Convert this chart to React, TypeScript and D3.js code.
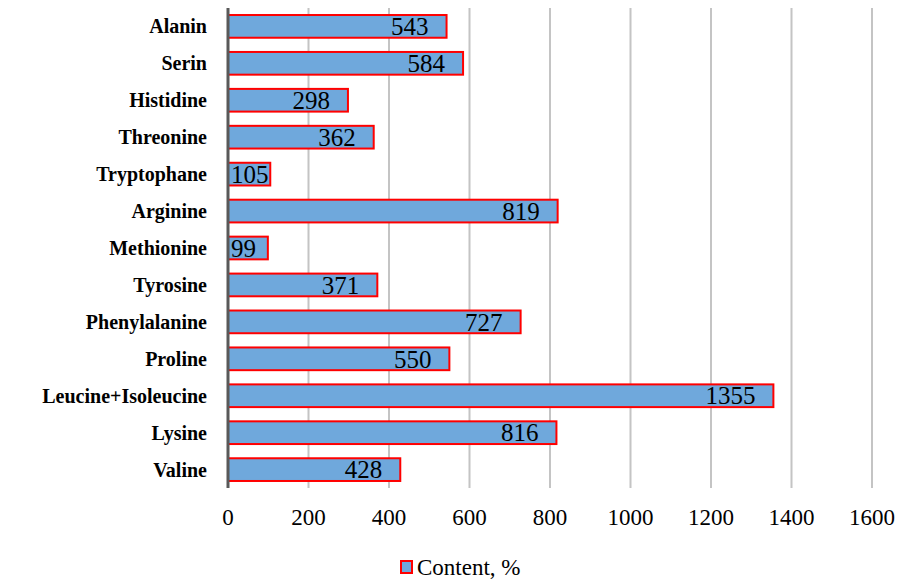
import * as d3 from 'd3';

const categories = [
  'Alanin', 'Serin', 'Histidine', 'Threonine', 'Tryptophane', 'Arginine', 'Methionine',
  'Tyrosine', 'Phenylalanine', 'Proline', 'Leucine+Isoleucine', 'Lysine', 'Valine',
];
const contentValues = [543, 584, 298, 362, 105, 819, 99, 371, 727, 550, 1355, 816, 428];
const xTicks = [0, 200, 400, 600, 800, 1000, 1200, 1400, 1600];
const seriesName = 'Content, %';

const fontStyle = { fontFamily: 'Liberation Serif, serif' };
const BAR_FILL = '#6fa8dc';
const BAR_STROKE = '#ff0000';

const x = d3.scaleLinear().domain([0, 1600]).range([228, 872]);
const y = d3.scaleBand().domain(categories).range([8, 488]).paddingInner(0.385).paddingOuter(0.19);

const App = () => {
  const data = categories.map((c, i) => ({ name: c, value: contentValues[i] }));
  const labelSize = 25;

  return (
    <svg width={898} height={580} style={{ position: 'absolute', left: 0, top: 0, background: '#fff' }}>
      {/* gridlines */}
      {xTicks.slice(1).map(t => (
        <line key={t} x1={x(t)} x2={x(t)} y1={8} y2={488} stroke="#c4c4c4" strokeWidth={2} />
      ))}

      {/* bars */}
      {data.map(d => (
        <rect
          key={d.name}
          x={x(0)}
          y={y(d.name)}
          width={x(d.value) - x(0)}
          height={y.bandwidth()}
          fill={BAR_FILL}
          stroke={BAR_STROKE}
          strokeWidth={2}
        />
      ))}

      {/* axis line */}
      <line x1={x(0)} x2={x(0)} y1={8} y2={488} stroke="#595959" strokeWidth={3} />

      {/* value labels, clamped so short bars keep theirs near the axis */}
      {data.map(d => {
        const w = String(d.value).length * labelSize * 0.5;
        const start = Math.max(x(d.value) - 18 - w, 231);
        return (
          <text
            key={d.name}
            x={start}
            y={(y(d.name) ?? 0) + y.bandwidth() / 2}
            dy="0.35em"
            fontSize={labelSize}
            fill="#000"
            style={fontStyle}
          >
            {d.value}
          </text>
        );
      })}

      {/* category labels */}
      {categories.map(c => (
        <text
          key={c}
          x={207}
          y={(y(c) ?? 0) + y.bandwidth() / 2}
          dy="0.35em"
          textAnchor="end"
          fontSize={20}
          fontWeight="bold"
          style={fontStyle}
        >
          {c}
        </text>
      ))}

      {/* x tick labels */}
      {xTicks.map(t => (
        <text key={t} x={x(t)} y={517} dy="0.35em" textAnchor="middle" fontSize={23} style={fontStyle}>
          {t}
        </text>
      ))}

      {/* legend */}
      <rect x={401} y={561} width={11} height={12} fill={BAR_FILL} stroke={BAR_STROKE} strokeWidth={2} />
      <text x={417} y={567} dy="0.35em" fontSize={23} style={fontStyle}>
        {seriesName}
      </text>
    </svg>
  );
};

export default App;
